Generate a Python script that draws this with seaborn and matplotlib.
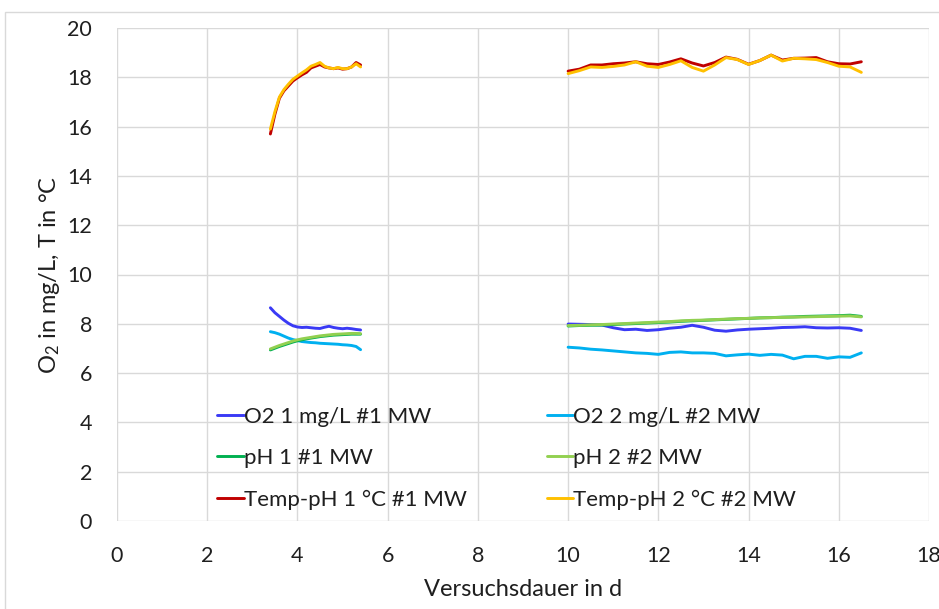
import numpy as np
import pandas as pd
import matplotlib
matplotlib.use("Agg")
import matplotlib.pyplot as plt
import seaborn as sns
from matplotlib.patches import Rectangle

# Zeitachse (Tage), zwei Messabschnitte
t_seg1 = [3.4, 3.5, 3.6, 3.7, 3.8, 3.9, 4.0, 4.1, 4.2, 4.3, 4.4, 4.5, 4.6, 4.7,
          4.8, 4.9, 5.0, 5.1, 5.2, 5.3, 5.4]
t_seg2 = [10.0, 10.25, 10.5, 10.75, 11.0, 11.25, 11.5, 11.75, 12.0, 12.25, 12.5,
          12.75, 13.0, 13.25, 13.5, 13.75, 14.0, 14.25, 14.5, 14.75, 15.0, 15.25,
          15.5, 15.75, 16.0, 16.25, 16.5]

series_names = ["O2 1 mg/L #1 MW", "O2 2 mg/L #2 MW", "pH 1 #1 MW",
                "pH 2 #2 MW", "Temp-pH 1 °C #1 MW", "Temp-pH 2 °C #2 MW"]
colors = ["#3A3AF5", "#00B0F0", "#00B050", "#92D050", "#C00000", "#FFC000"]

o2_1_seg1 = [8.65, 8.45, 8.3, 8.15, 8.02, 7.92, 7.87, 7.85, 7.86, 7.84, 7.82,
             7.81, 7.86, 7.9, 7.85, 7.82, 7.8, 7.82, 7.8, 7.77, 7.75]
o2_1_seg2 = [7.99, 7.98, 7.97, 7.95, 7.84, 7.76, 7.78, 7.73, 7.76, 7.82, 7.86,
             7.94, 7.86, 7.74, 7.7, 7.75, 7.78, 7.8, 7.82, 7.85, 7.86, 7.88,
             7.84, 7.83, 7.84, 7.82, 7.73]
o2_2_seg1 = [7.68, 7.64, 7.58, 7.5, 7.42, 7.36, 7.32, 7.28, 7.26, 7.24, 7.23,
             7.21, 7.2, 7.19, 7.18, 7.17, 7.15, 7.14, 7.12, 7.08, 6.95]
o2_2_seg2 = [7.05, 7.02, 6.97, 6.94, 6.9, 6.86, 6.82, 6.8, 6.76, 6.84, 6.86,
             6.82, 6.82, 6.8, 6.7, 6.74, 6.77, 6.72, 6.76, 6.73, 6.58, 6.68,
             6.68, 6.6, 6.66, 6.64, 6.82]
ph_1_seg1 = [6.94, 7.01, 7.08, 7.14, 7.2, 7.26, 7.31, 7.35, 7.39, 7.42, 7.45,
             7.48, 7.5, 7.52, 7.54, 7.55, 7.56, 7.57, 7.58, 7.58, 7.58]
ph_1_seg2 = [7.91, 7.93, 7.94, 7.95, 7.97, 7.99, 8.01, 8.03, 8.05, 8.07, 8.1,
             8.12, 8.14, 8.16, 8.18, 8.2, 8.22, 8.24, 8.25, 8.27, 8.28, 8.3,
             8.31, 8.32, 8.33, 8.35, 8.3]
ph_2_seg1 = [6.98, 7.05, 7.12, 7.18, 7.24, 7.3, 7.35, 7.39, 7.42, 7.45, 7.48,
             7.51, 7.53, 7.55, 7.57, 7.58, 7.59, 7.6, 7.61, 7.61, 7.6]
ph_2_seg2 = [7.93, 7.94, 7.96, 7.97, 7.99, 8.01, 8.03, 8.05, 8.07, 8.09, 8.12,
             8.14, 8.15, 8.17, 8.19, 8.21, 8.22, 8.24, 8.25, 8.26, 8.27, 8.28,
             8.29, 8.3, 8.31, 8.32, 8.28]
temp_1_seg1 = [15.7, 16.5, 17.15, 17.45, 17.65, 17.85, 17.98, 18.1, 18.2, 18.38,
               18.45, 18.52, 18.42, 18.38, 18.35, 18.38, 18.33, 18.35, 18.42,
               18.6, 18.5]
temp_1_seg2 = [18.25, 18.33, 18.5, 18.5, 18.55, 18.58, 18.63, 18.55, 18.52,
               18.62, 18.75, 18.58, 18.46, 18.6, 18.82, 18.73, 18.53, 18.68,
               18.9, 18.7, 18.77, 18.78, 18.8, 18.63, 18.55, 18.54, 18.63]
temp_2_seg1 = [15.9, 16.6, 17.2, 17.5, 17.72, 17.92, 18.05, 18.18, 18.3, 18.45,
               18.52, 18.6, 18.45, 18.38, 18.35, 18.4, 18.35, 18.35, 18.42,
               18.55, 18.42]
temp_2_seg2 = [18.15, 18.27, 18.42, 18.4, 18.44, 18.5, 18.63, 18.45, 18.4,
               18.52, 18.67, 18.4, 18.25, 18.5, 18.8, 18.72, 18.52, 18.68,
               18.9, 18.66, 18.77, 18.75, 18.72, 18.6, 18.45, 18.42, 18.2]

seg1_values = [o2_1_seg1, o2_2_seg1, ph_1_seg1, ph_2_seg1, temp_1_seg1, temp_2_seg1]
seg2_values = [o2_1_seg2, o2_2_seg2, ph_1_seg2, ph_2_seg2, temp_1_seg2, temp_2_seg2]

# Long format: Abschnitte als "units", damit die Lücke nicht verbunden wird
frames = []
for name, v1, v2 in zip(series_names, seg1_values, seg2_values):
    frames.append(pd.DataFrame({"t": t_seg1, "wert": v1, "serie": name, "abschnitt": 1}))
    frames.append(pd.DataFrame({"t": t_seg2, "wert": v2, "serie": name, "abschnitt": 2}))
df = pd.concat(frames, ignore_index=True)

sns.set_style("white")
plt.rcParams["font.family"] = ["Lato", "DejaVu Sans"]
plt.rcParams["mathtext.default"] = "regular"
text_col = "#1F1F1F"

fig = plt.figure(figsize=(9.39, 6.09), dpi=100)
ax = fig.add_axes([117 / 939, 1 - 521 / 609, (929 - 117) / 939, (521 - 28) / 609])

sns.lineplot(data=df, x="t", y="wert", hue="serie", units="abschnitt",
             estimator=None, hue_order=series_names,
             palette=dict(zip(series_names, colors)), linewidth=2.1, ax=ax)

ax.set_xlim(0, 18)
ax.set_ylim(0, 20)
ax.set_xticks(range(0, 19, 2))
ax.set_yticks(range(0, 21, 2))
ax.grid(True, color="#D9D9D9", linewidth=1)
ax.set_axisbelow(True)
for s in ax.spines.values():
    s.set_visible(False)
ax.tick_params(axis="both", length=0, labelsize=15.5, colors=text_col)
ax.tick_params(axis="x", pad=18)
ax.tick_params(axis="y", pad=18)
ax.set_xlabel("Versuchsdauer in d", fontsize=17, color=text_col, labelpad=9)
ax.set_ylabel("O$_2$ in mg/L, T in °C", fontsize=17, color=text_col, labelpad=4)

# Legende: 2 Spalten, zeilenweise Reihenfolge
handles, labels = ax.get_legend_handles_labels()
order = [0, 2, 4, 1, 3, 5]
ax.legend([handles[i] for i in order], [labels[i] for i in order], ncol=2,
          frameon=False, fontsize=16, handlelength=1.2, handletextpad=0.0,
          columnspacing=3.6, labelspacing=0.96, labelcolor=text_col,
          loc="upper left", bbox_to_anchor=(0.0986, 0.272))

# Rahmen um den Diagrammbereich
fig.patches.append(Rectangle((5 / 939, -0.05), 1.2, 1 - 12 / 609 + 0.05,
                             transform=fig.transFigure, fill=False,
                             edgecolor="#D9D9D9", linewidth=1))

fig.savefig("out.png", dpi=100)
